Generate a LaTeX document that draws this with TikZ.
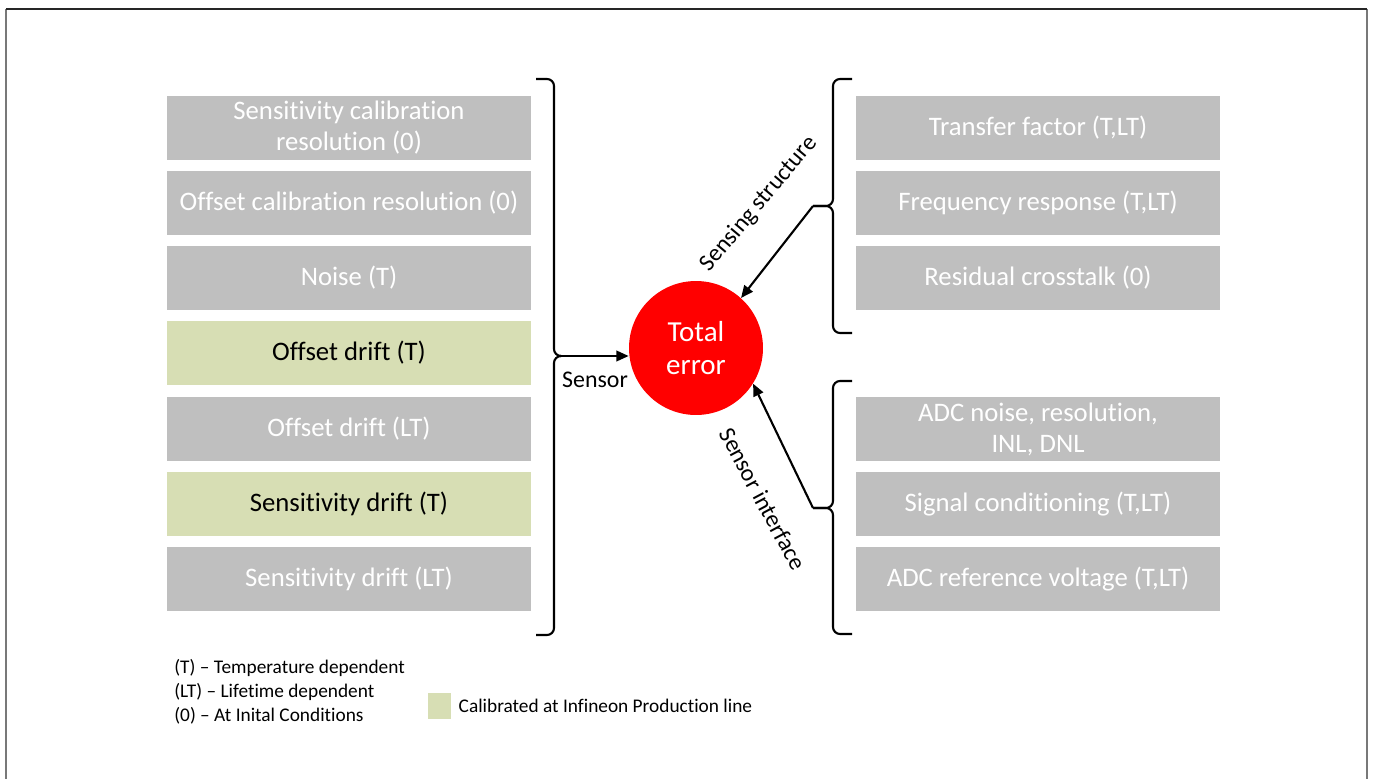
\documentclass[tikz,border=0pt]{standalone}
\usepackage{fontspec}
\setmainfont{Carlito}[Ligatures=NoCommon]
\usetikzlibrary{arrows.meta}
\usetikzlibrary{positioning}
\definecolor{boxgray}{RGB}{191,191,191}
\definecolor{calgreen}{RGB}{215,222,180}
\definecolor{errred}{RGB}{255,0,0}
\definecolor{framegray}{RGB}{120,120,120}

\begin{document}
\begin{tikzpicture}[x=0.02cm, y=-0.02cm,
    errbox/.style={fill=boxgray, text=white, minimum width=7.28cm, minimum height=1.28cm,
      align=center, inner sep=0pt, font=\fontsize{15.2}{17.6}\selectfont},
    calbox/.style={errbox, fill=calgreen, text=black},
    bracket/.style={line width=1.2pt, rounded corners=4pt},
    flow/.style={line width=1.2pt, -{Triangle[length=7pt,width=6pt]}},
    lbl/.style={font=\fontsize{13.6}{16}\selectfont, inner sep=0pt},
    legend/.style={anchor=west, font=\fontsize{11}{13}\selectfont, inner sep=0pt}]

  \useasboundingbox (0,0) rectangle (1373,778);
  \draw[framegray, line width=0.8pt] (6,780) -- (6,9);
  \draw[framegray, line width=0.8pt] (1367,780) -- (1367,9);
  \draw[black!85, line width=0.8pt] (6,9) -- (1367,9);

  % sensor side
  \node[errbox] (l1) at (349,128) {Sensitivity calibration\\resolution (0)};
  \node[errbox] (l2) at (349,203) {Offset calibration resolution (0)};
  \node[errbox] (l3) at (349,278) {Noise (T)};
  \node[calbox] (l4) at (349,353) {Offset drift (T)};
  \node[errbox] (l5) at (349,429) {Offset drift (LT)};
  \node[calbox] (l6) at (349,504) {Sensitivity drift (T)};
  \node[errbox] (l7) at (349,579) {Sensitivity drift (LT)};

  % sensing structure and interface
  \node[errbox] (r1) at (1038,128) {Transfer factor (T,LT)};
  \node[errbox] (r2) at (1038,203) {Frequency response (T,LT)};
  \node[errbox] (r3) at (1038,278) {Residual crosstalk (0)};
  \node[errbox] (r4) at (1038,429) {ADC noise, resolution,\\INL, DNL};
  \node[errbox] (r5) at (1038,504) {Signal conditioning (T,LT)};
  \node[errbox] (r6) at (1038,579) {ADC reference voltage (T,LT)};

  \node[circle, fill=errred, minimum size=2.68cm, inner sep=0pt, text=white, align=center,
    font=\fontsize{16.5}{19.3}\selectfont] (total) at (696,348) {Total\\error};

  % brackets
  \coordinate (stip) at (560,356);
  \draw[bracket] (536,79) -- (554,79) -- (554,356) -- (stip);
  \draw[bracket] (stip) -- (554,356) -- (554,635) -- (536,635);

  \coordinate (sstip) at (813,206);
  \draw[bracket] (852,79) -- (833,79) -- (833,206) -- (sstip);
  \draw[bracket] (sstip) -- (833,206) -- (833,333) -- (852,333);

  \coordinate (sitip) at (813,508);
  \draw[bracket] (852,381) -- (833,381) -- (833,508) -- (sitip);
  \draw[bracket] (sitip) -- (833,508) -- (833,634) -- (852,634);

  \draw[flow] (stip) -- (stip -| total.west);
  \draw[flow] (sstip) -- (total.48);
  \draw[flow] (sitip) -- (total.-32);

  \node[lbl] (sensor) at (595,380) {Sensor};
  \node[lbl, rotate=50] (sensing) at (759,204) {Sensing structure};
  \node[lbl, rotate=-62] (interface) at (763,499) {Sensor interface};

  % legend
  \node[legend] (lgt) at (174,668) {(T) -- Temperature dependent};
  \node[legend] (lglt) at (174,692) {(LT) -- Lifetime dependent};
  \node[legend] (lgo) at (174,716) {(0) -- At Inital Conditions};
  \node[fill=calgreen, minimum width=0.46cm, minimum height=0.52cm, inner sep=0pt] (lgbox) at (439.5,706) {};
  \node[legend, right=4pt of lgbox] (lgcal) {Calibrated at Infineon Production line};

\end{tikzpicture}
\end{document}
